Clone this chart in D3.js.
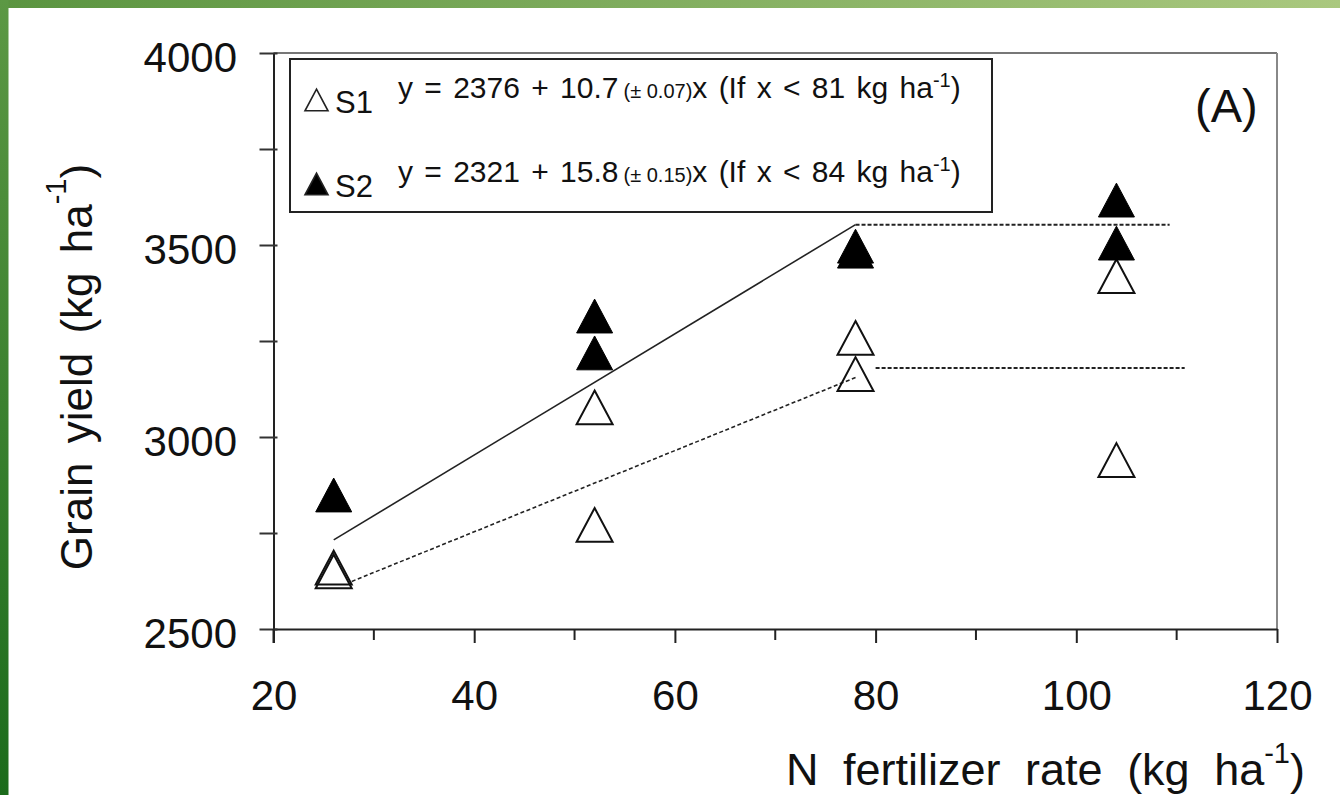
<html>
<head>
<style>
  body { margin: 0; background: #fff; }
  text { font-family: "Liberation Sans", Arial, sans-serif; fill: #111; }
</style>
</head>
<body>
<script src="https://d3js.org/d3.v7.min.js"></script>
<script>
// N rate (kg/ha) and grain yield (kg/ha)
var xS1 = [26, 26, 52, 52, 78, 78, 104, 104];
var yS1 = [2650, 2660, 3077, 2771, 3258, 3164, 3419, 2940];
var xS2 = [26, 52, 52, 78, 78, 104, 104];
var yS2 = [2849, 3315, 3219, 3497, 3484, 3617, 3505];

// fitted linear-plateau segments
var fitS1 = [[27.8, 2624], [78, 3155]];
var plateauS1 = [[80, 3180], [110.8, 3180]];
var fitS2 = [[26, 2732], [78, 3553]];
var plateauS2 = [[78, 3553], [109.3, 3553]];

var xMajor = [20, 40, 60, 80, 100, 120];
var xMinor = [30, 50, 70, 90, 110];
var yTicks = [2500, 2750, 3000, 3250, 3500, 3750, 4000];

var legendRows = [
  { name: 'S1', a: '2376', b: '10.7', se: '0.07', lim: '81', filled: false },
  { name: 'S2', a: '2321', b: '15.8', se: '0.15', lim: '84', filled: true }
];

var width = 1340, height = 795;

var svg = d3.select('body').append('svg')
  .attr('width', width).attr('height', height);

// green slide frame
var defs = svg.append('defs');
var gTop = defs.append('linearGradient').attr('id', 'gtop');
gTop.append('stop').attr('offset', '0%').attr('stop-color', '#5a9440');
gTop.append('stop').attr('offset', '100%').attr('stop-color', '#aac87f');
var gLeft = defs.append('linearGradient').attr('id', 'gleft')
  .attr('x1', 0).attr('y1', 0).attr('x2', 0).attr('y2', 1);
gLeft.append('stop').attr('offset', '0%').attr('stop-color', '#5c9844');
gLeft.append('stop').attr('offset', '100%').attr('stop-color', '#1b6b1b');
svg.append('rect').attr('width', width).attr('height', 8).attr('fill', 'url(#gtop)');
svg.append('rect').attr('width', 8.5).attr('height', height).attr('fill', 'url(#gleft)');

var x = d3.scaleLinear().domain([20, 120]).range([273.5, 1277]);
var y = d3.scaleLinear().domain([2500, 4000]).range([629, 53]);

// frame top / right
svg.append('line').attr('x1', x(20)).attr('x2', x(120)).attr('y1', y(4000)).attr('y2', y(4000))
  .attr('stroke', '#777').attr('stroke-width', 2);
svg.append('line').attr('x1', x(120)).attr('x2', x(120)).attr('y1', y(4000)).attr('y2', y(2500))
  .attr('stroke', '#888').attr('stroke-width', 2);

// x axis
var xAxis = svg.append('g').attr('transform', 'translate(0,' + y(2500) + ')')
  .call(d3.axisBottom(x).tickValues(xMajor).tickSize(14).tickSizeOuter(0).tickFormat(d3.format('d')));
xAxis.select('.domain').attr('stroke', '#222').attr('stroke-width', 2);
xAxis.selectAll('.tick line').attr('stroke', '#222').attr('stroke-width', 2);
xAxis.selectAll('.tick text').attr('y', 81).attr('dy', 0)
  .style('font-family', '"Liberation Sans", Arial, sans-serif').style('font-size', '42px').attr('fill', '#111');
xAxis.selectAll('.minor').data(xMinor).enter().append('line')
  .attr('x1', d => x(d)).attr('x2', d => x(d)).attr('y1', 0).attr('y2', 11)
  .attr('stroke', '#222').attr('stroke-width', 2);

// y axis
var yAxis = svg.append('g').attr('transform', 'translate(' + x(20) + ',0)')
  .call(d3.axisLeft(y).tickValues(yTicks).tickSize(14).tickSizeOuter(0)
    .tickFormat(d => d % 500 === 0 ? d : ''));
yAxis.select('.domain').attr('stroke', '#222').attr('stroke-width', 2);
yAxis.selectAll('.tick line').attr('x1', 4).attr('x2', -14).attr('stroke', '#333').attr('stroke-width', 2);
yAxis.selectAll('.tick text').attr('x', -36.5).attr('dy', '0.43em')
  .style('font-family', '"Liberation Sans", Arial, sans-serif').style('font-size', '42px').attr('fill', '#111');
// axis line continues to the x=20 tick below
svg.append('line').attr('x1', x(20)).attr('x2', x(20)).attr('y1', y(2500)).attr('y2', y(2500) + 14)
  .attr('stroke', '#222').attr('stroke-width', 2);

// fitted lines
var line = d3.line().x(d => x(d[0])).y(d => y(d[1]));
svg.append('path').datum(fitS2).attr('d', line).attr('fill', 'none')
  .attr('stroke', '#222').attr('stroke-width', 1.6);
svg.append('path').datum(plateauS2).attr('d', line).attr('fill', 'none')
  .attr('stroke', '#222').attr('stroke-width', 2).attr('stroke-dasharray', '4,2');
svg.append('path').datum(fitS1).attr('d', line).attr('fill', 'none')
  .attr('stroke', '#222').attr('stroke-width', 1.6).attr('stroke-dasharray', '4,2.5');
svg.append('path').datum(plateauS1).attr('d', line).attr('fill', 'none')
  .attr('stroke', '#222').attr('stroke-width', 2).attr('stroke-dasharray', '4,2');

// triangle marker centred on its bounding box
var tri = {
  draw: function (ctx, size) {
    var w = size, h = size * 0.94;
    ctx.moveTo(0, -h / 2);
    ctx.lineTo(w / 2, h / 2);
    ctx.lineTo(-w / 2, h / 2);
    ctx.closePath();
  }
};
var marker = d3.symbol().type(tri).size(36);

svg.selectAll('.s1').data(xS1).enter().append('path').attr('class', 's1')
  .attr('d', marker)
  .attr('transform', (d, i) => 'translate(' + x(d) + ',' + y(yS1[i]) + ')')
  .attr('fill', 'none').attr('stroke', '#111').attr('stroke-width', 2);
svg.selectAll('.s2').data(xS2).enter().append('path').attr('class', 's2')
  .attr('d', marker)
  .attr('transform', (d, i) => 'translate(' + x(d) + ',' + y(yS2[i]) + ')')
  .attr('fill', '#000').attr('stroke', '#000').attr('stroke-width', 1);

// legend box
svg.append('rect').attr('x', 290).attr('y', 59).attr('width', 702).attr('height', 153)
  .attr('fill', '#fff').attr('stroke', '#222').attr('stroke-width', 2);

var legendSym = d3.symbol().type(tri).size(23);
var rows = svg.selectAll('.leg').data(legendRows).enter().append('g')
  .attr('class', 'leg')
  .attr('transform', (d, i) => 'translate(0,' + (i * 84) + ')');
rows.append('path').attr('d', legendSym)
  .attr('transform', 'translate(316.5,100)')
  .attr('fill', d => d.filled ? '#000' : 'none')
  .attr('stroke', '#222').attr('stroke-width', 1.6);
rows.append('text').attr('x', 335).attr('y', 113).style('font-size', '31px').text(d => d.name);
var eq = rows.append('text').attr('x', 398).attr('y', 98)
  .style('font-size', '30px').style('word-spacing', '3px');
eq.append('tspan').text(d => 'y = ' + d.a + ' + ' + d.b);
eq.append('tspan').attr('dx', 5).style('font-size', '20px').style('word-spacing', '0px')
  .text(d => '(\u00b1 ' + d.se + ')');
eq.append('tspan').text(d => 'x (If x < ' + d.lim + ' kg ha');
eq.append('tspan').attr('dy', -11).style('font-size', '20px').text('-1');
eq.append('tspan').attr('dy', 11).text(')');

// panel tag
svg.append('text').attr('x', 1195).attr('y', 122).style('font-size', '47px').text('(A)');

// axis titles
var xt = svg.append('text').attr('x', 1305).attr('y', 785).attr('text-anchor', 'end')
  .style('font-size', '45px').style('word-spacing', '12px');
xt.append('tspan').text('N fertilizer rate (kg ha');
xt.append('tspan').attr('dy', -22).style('font-size', '29px').text('-1');
xt.append('tspan').attr('dy', 22).text(')');

var yt = svg.append('text').attr('transform', 'translate(92,367) rotate(-90)')
  .attr('text-anchor', 'middle').style('font-size', '44px').style('word-spacing', '7px');
yt.append('tspan').text('Grain yield (kg ha');
yt.append('tspan').attr('dy', -26).style('font-size', '29px').text('-1');
yt.append('tspan').attr('dy', 26).text(')');
</script>
</body>
</html>
